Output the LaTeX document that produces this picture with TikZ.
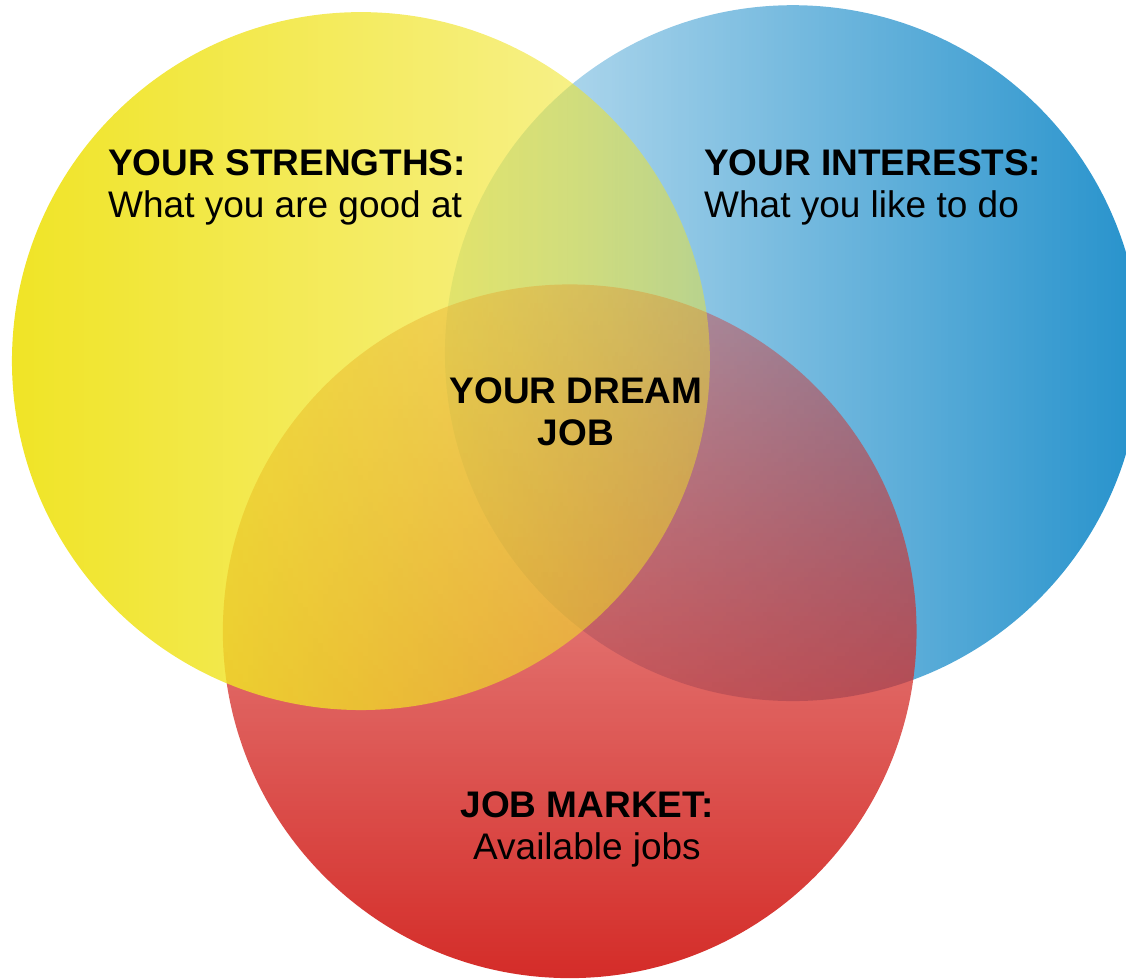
\documentclass[tikz,border=0pt]{standalone}
\usepackage{fontspec}
\setmainfont{Liberation Sans}
\usetikzlibrary{fadings}
\definecolor{yellowpure}{RGB}{240,228,38}
\definecolor{bluepure}{RGB}{38,146,204}
\definecolor{redpure}{RGB}{212,44,40}
\tikzfading[name=yfade, left color=transparent!0, right color=transparent!55]
\tikzfading[name=bfade, left color=transparent!74, right color=transparent!0]
\tikzfading[name=rfade, top color=transparent!62, bottom color=transparent!0]
\tikzset{
  lbl/.style={inner sep=0pt, font=\fontsize{37}{42}\selectfont, text=black},
}
\begin{document}
\begin{tikzpicture}[x=1pt,y=1pt]
\useasboundingbox (0,0) rectangle (1126,978);
% blue circle (bottom layer)
\fill[bluepure, path fading=bfade] (793,625) circle (348);
% red circle
\fill[redpure, path fading=rfade] (570,347) circle (347);
% yellow circle (top layer)
\fill[yellowpure, path fading=yfade] (361,617) circle (349);
% labels (anchor base = baseline of the last line)
\node[lbl, anchor=base west, align=left] (strengths) at (108,760)
  {\textbf{YOUR STRENGTHS:}\\What you are good at};
\node[lbl, anchor=base west, align=left] (interests) at (704,760)
  {\textbf{YOUR INTERESTS:}\\What you like to do};
\node[lbl, anchor=base, align=center] (dream) at (576,532)
  {\textbf{YOUR DREAM}\\\textbf{JOB}};
\node[lbl, anchor=base, align=center] (market) at (587,119)
  {\textbf{JOB MARKET:}\\Available jobs};
\end{tikzpicture}
\end{document}
